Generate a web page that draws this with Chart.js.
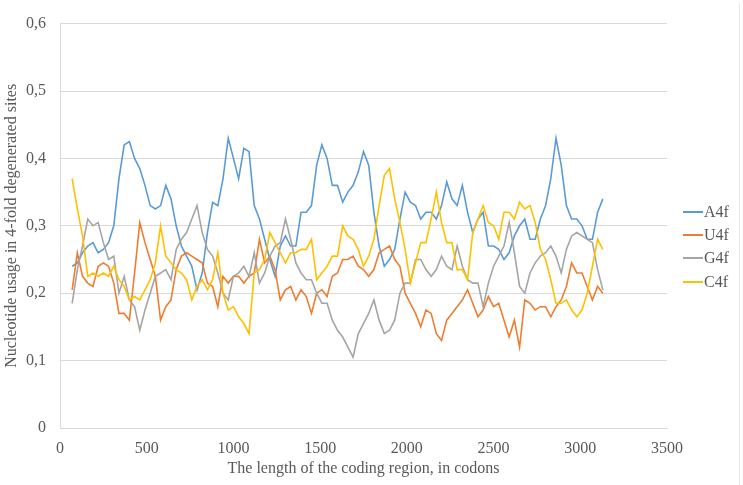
<!DOCTYPE html>
<html>
<head>
<meta charset="utf-8">
<title>Nucleotide usage in 4-fold degenerated sites</title>
<script src="https://cdn.jsdelivr.net/npm/chart.js@4"></script>
<style>
  body { margin: 0; background: #fff; }
  #wrap { position: relative; width: 743px; height: 485px; }
  #legend {
    position: absolute; left: 683px; top: 200px;
    font-family: "Liberation Serif", serif; font-size: 16px; color: #595959;
  }
  .legend-item { display: flex; align-items: center; height: 23.4px; }
  .legend-line { width: 20px; height: 2px; margin-right: 1px; }
  #edge { position: absolute; left: 739px; top: 3px; bottom: 0; width: 1px; background: #e6e6e6; }
</style>
</head>
<body>
<div id="wrap">
  <canvas id="chart" width="743" height="485"></canvas>
  <div id="legend"></div>
  <div id="edge"></div>
</div>
<script>
// Position along the coding region (codons)
const codons = [70, 100, 130, 160, 190, 220, 250, 280, 310, 340, 370, 400, 430, 460, 490, 520,
  550, 580, 610, 640, 670, 700, 730, 760, 790, 820, 850, 880, 910, 940, 970, 1000, 1030,
  1060, 1090, 1120, 1150, 1180, 1210, 1240, 1270, 1300, 1330, 1360, 1390, 1420, 1450, 1480, 1510, 1540, 1570,
  1600, 1630, 1660, 1690, 1720, 1750, 1780, 1810, 1840, 1870, 1900, 1930, 1960, 1990, 2020, 2050, 2080,
  2110, 2140, 2170, 2200, 2230, 2260, 2290, 2320, 2350, 2380, 2410, 2440, 2470, 2500, 2530, 2560, 2590,
  2620, 2650, 2680, 2710, 2740, 2770, 2800, 2830, 2860, 2890, 2920, 2950, 2980, 3010, 3040, 3070, 3100, 3130];

// Series values
const a4f = [0.24, 0.245, 0.26, 0.27, 0.275, 0.26, 0.265, 0.275, 0.30, 0.37, 0.42, 0.425, 0.40, 0.385, 0.36, 0.33,
  0.325, 0.33, 0.36, 0.34, 0.30, 0.27, 0.255, 0.24, 0.205, 0.23, 0.29, 0.335, 0.33, 0.37, 0.43, 0.40, 0.37,
  0.415, 0.41, 0.33, 0.31, 0.28, 0.25, 0.225, 0.27, 0.285, 0.27, 0.27, 0.32, 0.32, 0.33, 0.39, 0.42, 0.40, 0.36,
  0.36, 0.335, 0.35, 0.36, 0.38, 0.41, 0.39, 0.32, 0.27, 0.24, 0.25, 0.265, 0.31, 0.35, 0.335, 0.33, 0.31,
  0.32, 0.32, 0.31, 0.33, 0.365, 0.34, 0.33, 0.36, 0.32, 0.29, 0.31, 0.32, 0.27, 0.27, 0.265, 0.25, 0.26,
  0.285, 0.30, 0.31, 0.28, 0.28, 0.31, 0.33, 0.37, 0.43, 0.39, 0.33, 0.31, 0.31, 0.30, 0.28, 0.28, 0.32, 0.34];

const u4f = [0.205, 0.26, 0.225, 0.215, 0.21, 0.24, 0.245, 0.24, 0.215, 0.17, 0.17, 0.16, 0.23, 0.305, 0.275, 0.25,
  0.225, 0.16, 0.18, 0.19, 0.235, 0.255, 0.26, 0.255, 0.25, 0.245, 0.215, 0.21, 0.18, 0.225, 0.215, 0.225, 0.225,
  0.215, 0.225, 0.23, 0.28, 0.245, 0.255, 0.235, 0.19, 0.205, 0.21, 0.19, 0.205, 0.195, 0.17, 0.2, 0.205, 0.195, 0.225,
  0.23, 0.25, 0.25, 0.255, 0.24, 0.235, 0.225, 0.235, 0.26, 0.265, 0.27, 0.25, 0.24, 0.2, 0.185, 0.17, 0.15,
  0.175, 0.17, 0.14, 0.13, 0.16, 0.17, 0.18, 0.19, 0.205, 0.185, 0.165, 0.175, 0.195, 0.18, 0.185, 0.16, 0.135,
  0.16, 0.12, 0.19, 0.185, 0.175, 0.18, 0.18, 0.165, 0.18, 0.19, 0.21, 0.245, 0.23, 0.23, 0.21, 0.19, 0.21, 0.2];

const g4f = [0.185, 0.235, 0.27, 0.31, 0.30, 0.305, 0.275, 0.25, 0.255, 0.2, 0.225, 0.19, 0.18, 0.145, 0.175, 0.2,
  0.225, 0.23, 0.235, 0.22, 0.265, 0.28, 0.29, 0.31, 0.33, 0.29, 0.265, 0.255, 0.23, 0.2, 0.19, 0.225, 0.23,
  0.24, 0.225, 0.26, 0.215, 0.23, 0.255, 0.27, 0.275, 0.31, 0.28, 0.245, 0.23, 0.22, 0.22, 0.2, 0.185, 0.185, 0.16,
  0.145, 0.135, 0.12, 0.105, 0.14, 0.155, 0.17, 0.19, 0.16, 0.14, 0.145, 0.16, 0.2, 0.215, 0.215, 0.25, 0.25,
  0.235, 0.225, 0.235, 0.255, 0.24, 0.235, 0.27, 0.24, 0.22, 0.215, 0.215, 0.18, 0.215, 0.24, 0.255, 0.27, 0.305,
  0.26, 0.21, 0.2, 0.23, 0.245, 0.255, 0.26, 0.27, 0.255, 0.23, 0.265, 0.285, 0.29, 0.285, 0.28, 0.275, 0.235, 0.205];

const c4f = [0.37, 0.325, 0.285, 0.225, 0.23, 0.225, 0.23, 0.225, 0.24, 0.22, 0.21, 0.19, 0.195, 0.19, 0.205, 0.22,
  0.245, 0.3, 0.255, 0.245, 0.235, 0.23, 0.22, 0.19, 0.21, 0.22, 0.205, 0.22, 0.26, 0.2, 0.175, 0.18, 0.165,
  0.155, 0.14, 0.23, 0.235, 0.25, 0.29, 0.275, 0.26, 0.245, 0.26, 0.26, 0.265, 0.265, 0.28, 0.22, 0.23, 0.24, 0.255,
  0.255, 0.3, 0.285, 0.28, 0.265, 0.24, 0.255, 0.28, 0.33, 0.375, 0.385, 0.34, 0.305, 0.265, 0.215, 0.245, 0.275,
  0.275, 0.31, 0.35, 0.305, 0.275, 0.275, 0.235, 0.235, 0.22, 0.29, 0.31, 0.33, 0.305, 0.3, 0.28, 0.32, 0.32,
  0.31, 0.335, 0.325, 0.33, 0.305, 0.265, 0.25, 0.22, 0.185, 0.185, 0.19, 0.175, 0.165, 0.175, 0.2, 0.24, 0.28, 0.265];

const seriesNames = ['A4f', 'U4f', 'G4f', 'C4f'];
const seriesColors = ['#5b9bd5', '#ed7d31', '#a5a5a5', '#ffc000'];
const seriesValues = [a4f, u4f, g4f, c4f];

const xTitle = 'The length of the coding region, in codons';
const yTitle = 'Nucleotide usage in 4-fold degenerated sites';

const textColor = '#595959';
const gridColor = '#d9d9d9';
const serif = '"Liberation Serif", "Times New Roman", serif';

// Build the datasets; later series are drawn on top like in the original
const datasets = seriesNames.map((name, i) => ({
  label: name,
  data: codons.map((x, j) => ({ x: x, y: seriesValues[i][j] })),
  borderColor: seriesColors[i],
  backgroundColor: seriesColors[i],
  borderWidth: 1.6,
  pointRadius: 0,
  tension: 0,
  order: seriesNames.length - i
}));

new Chart(document.getElementById('chart'), {
  type: 'line',
  data: { datasets: datasets },
  options: {
    responsive: false,
    animation: false,
    devicePixelRatio: 1,
    layout: { padding: { left: 0, right: 76, top: 16, bottom: 0 } },
    plugins: {
      legend: { display: false },
      tooltip: { enabled: false }
    },
    scales: {
      x: {
        type: 'linear',
        min: 0,
        max: 3500,
        ticks: {
          stepSize: 500,
          color: textColor,
          padding: 11,
          maxRotation: 0,
          font: { family: serif, size: 16 },
          callback: (v) => String(v)
        },
        grid: { display: false, drawTicks: false },
        border: { color: gridColor, width: 1 },
        title: {
          display: true,
          text: xTitle,
          color: textColor,
          padding: { top: 0, bottom: 7 },
          font: { family: serif, size: 16 }
        },
        afterFit: (scale) => { scale.height = 57; }
      },
      y: {
        min: 0,
        max: 0.6,
        ticks: {
          stepSize: 0.1,
          color: textColor,
          padding: 14,
          font: { family: serif, size: 16 },
          callback: (v) => v === 0 ? '0' : v.toFixed(1).replace('.', ',')
        },
        grid: { color: gridColor, drawTicks: false },
        border: { color: gridColor, width: 1 },
        title: {
          display: true,
          text: yTitle,
          color: textColor,
          padding: { top: 2, bottom: 0 },
          font: { family: serif, size: 16 }
        },
        afterFit: (scale) => { scale.width = 60; }
      }
    }
  }
});

// Legend on the right, built from the series names
const legend = document.getElementById('legend');
seriesNames.forEach((name, i) => {
  const item = document.createElement('div');
  item.className = 'legend-item';
  const line = document.createElement('span');
  line.className = 'legend-line';
  line.style.background = seriesColors[i];
  const label = document.createElement('span');
  label.textContent = name;
  item.appendChild(line);
  item.appendChild(label);
  legend.appendChild(item);
});
</script>
</body>
</html>
